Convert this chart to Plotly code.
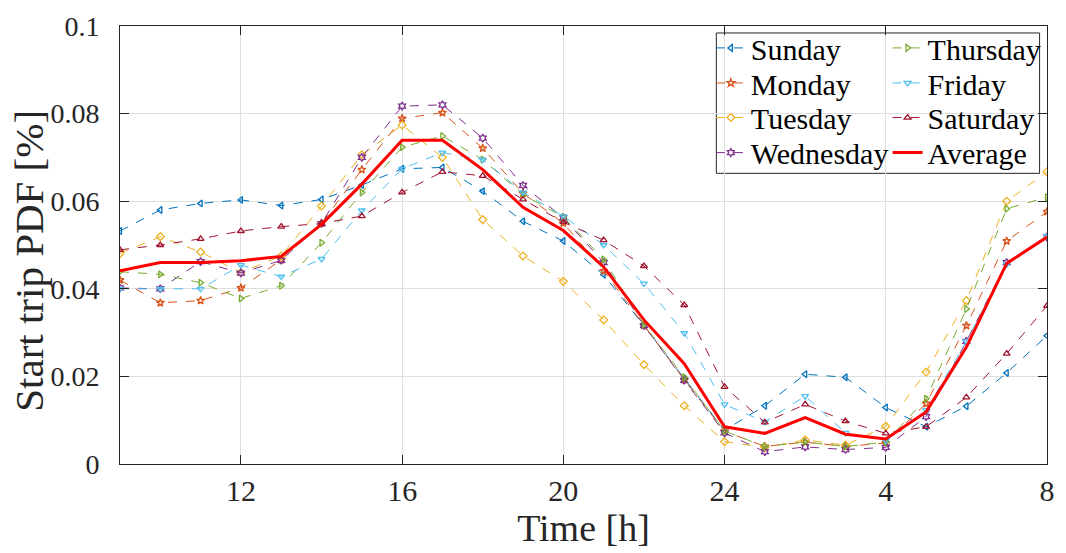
import plotly.graph_objects as go

# Hour of day (9 h to 8 h of the following day, continued past 24)
hours = list(range(9, 33))

sunday = [0.0532, 0.0580, 0.0595, 0.0603, 0.0590, 0.0604, 0.0637, 0.0674, 0.0677, 0.0623,
          0.0554, 0.0509, 0.0432, 0.0316, 0.0195, 0.0077, 0.0133, 0.0205, 0.0198, 0.0129,
          0.0085, 0.0132, 0.0208, 0.0293]
monday = [0.0420, 0.0368, 0.0373, 0.0402, 0.0466, 0.0550, 0.0672, 0.0789, 0.0802, 0.0721,
          0.0618, 0.0550, 0.0441, 0.0316, 0.0192, 0.0075, 0.0040, 0.0050, 0.0040, 0.0048,
          0.0138, 0.0316, 0.0509, 0.0576]
tuesday = [0.0481, 0.0519, 0.0484, 0.0437, 0.0475, 0.0589, 0.0706, 0.0774, 0.0700, 0.0558,
           0.0475, 0.0417, 0.0329, 0.0227, 0.0133, 0.0051, 0.0038, 0.0055, 0.0043, 0.0086,
           0.0210, 0.0373, 0.0600, 0.0667]
wednesday = [0.0402, 0.0400, 0.0462, 0.0436, 0.0465, 0.0549, 0.0700, 0.0817, 0.0820, 0.0744,
             0.0636, 0.0562, 0.0460, 0.0316, 0.0191, 0.0071, 0.0028, 0.0039, 0.0033, 0.0038,
             0.0108, 0.0280, 0.0460, 0.0518]
thursday = [0.0439, 0.0433, 0.0414, 0.0378, 0.0407, 0.0505, 0.0620, 0.0723, 0.0749, 0.0695,
            0.0615, 0.0564, 0.0467, 0.0318, 0.0198, 0.0075, 0.0040, 0.0050, 0.0040, 0.0050,
            0.0149, 0.0354, 0.0583, 0.0609]
friday = [0.0400, 0.0400, 0.0400, 0.0454, 0.0428, 0.0468, 0.0579, 0.0674, 0.0711, 0.0695,
          0.0620, 0.0566, 0.0500, 0.0412, 0.0299, 0.0136, 0.0096, 0.0155, 0.0071, 0.0053,
          0.0123, 0.0280, 0.0456, 0.0520]
saturday = [0.0489, 0.0500, 0.0514, 0.0532, 0.0542, 0.0549, 0.0566, 0.0620, 0.0667, 0.0658,
            0.0604, 0.0552, 0.0511, 0.0452, 0.0363, 0.0176, 0.0095, 0.0136, 0.0098, 0.0070,
            0.0085, 0.0152, 0.0252, 0.0361]
average = [0.0441, 0.0460, 0.0460, 0.0464, 0.0474, 0.0547, 0.0639, 0.0739, 0.0739, 0.0672,
           0.0586, 0.0533, 0.0450, 0.0329, 0.0229, 0.0085, 0.0070, 0.0106, 0.0068, 0.0057,
           0.0119, 0.0267, 0.0458, 0.0518]

x_tickvals = [12, 16, 20, 24, 28, 32]
x_ticktext = ["12", "16", "20", "24", "4", "8"]
y_tickvals = [0, 0.02, 0.04, 0.06, 0.08, 0.1]
y_ticktext = ["0", "0.02", "0.04", "0.06", "0.08", "0.1"]

FONT = "Liberation Serif"
PAD = "\u00a0\u00a0"  # gap between y tick labels and the axis line

# (name, values, colour, marker symbol)
days = [
    ("Sunday", sunday, "#0072BD", "triangle-left-open"),
    ("Monday", monday, "#D95319", "star-open"),
    ("Tuesday", tuesday, "#EDB120", "diamond-open"),
    ("Wednesday", wednesday, "#7E2F8E", "hexagram-open"),
    ("Thursday", thursday, "#77AC30", "triangle-right-open"),
    ("Friday", friday, "#4DBEEE", "triangle-down-open"),
    ("Saturday", saturday, "#A2142F", "triangle-up-open"),
]

# Legend laid out as two columns of four rows; one legend per entry
col_x = [0.6374, 0.8280]
row_y = [0.950, 0.870, 0.791, 0.711]
legend_ids = ["legend"] + [f"legend{i}" for i in range(2, 9)]

fig = go.Figure()
for i, (name, vals, color, symbol) in enumerate(days):
    fig.add_trace(go.Scatter(
        x=hours, y=vals, name=name, mode="lines+markers",
        line=dict(color=color, width=1, dash="dash"),
        marker=dict(symbol=symbol, size=6, color=color, line=dict(color=color, width=1.3)),
        legend=legend_ids[i],
    ))
fig.add_trace(go.Scatter(
    x=hours, y=average, name="Average", mode="lines",
    line=dict(color="#FF0000", width=3), legend=legend_ids[7],
))

legend_layout = {}
for i, lid in enumerate(legend_ids):
    legend_layout[lid] = dict(
        x=col_x[i // 4], y=row_y[i % 4], xanchor="left", yanchor="middle",
        bgcolor="rgba(0,0,0,0)", borderwidth=0, itemwidth=30,
        font=dict(family=FONT, size=30, color="black"),
    )

axis_common = dict(
    showline=True, linecolor="#262626", linewidth=1, mirror="ticks",
    ticks="inside", ticklen=9, tickcolor="#262626",
    showgrid=True, gridcolor="#DFDFDF", gridwidth=1,
    zeroline=False,
)

fig.update_layout(
    width=1066, height=553,
    margin=dict(l=120, r=11, t=24, b=89),
    paper_bgcolor="white", plot_bgcolor="white",
    font=dict(family=FONT, color="#262626"),
    xaxis=dict(range=[9, 32], tickvals=x_tickvals, ticktext=x_ticktext,
               tickfont=dict(family=FONT, size=30, color="#262626"),
               title=dict(text="Time [h]", font=dict(family=FONT, size=38), standoff=0),
               **axis_common),
    yaxis=dict(range=[0, 0.1], tickvals=y_tickvals,
               ticktext=[t + PAD for t in y_ticktext],
               tickfont=dict(family=FONT, size=28, color="#262626"),
               **axis_common),
    annotations=[dict(text="Start trip PDF [%]", textangle=-90,
                      xref="paper", yref="paper", x=-0.0984, y=0.4636,
                      xanchor="center", yanchor="middle", showarrow=False,
                      font=dict(family=FONT, size=41, color="#262626"))],
    shapes=[dict(type="rect", xref="paper", yref="paper",
                 x0=0.6433, x1=0.9920, y0=0.6636, y1=0.9841,
                 line=dict(color="#262626", width=1), fillcolor="white", layer="below")],
    showlegend=True,
)
fig.update_layout(**legend_layout)

fig.write_html("out.html")
